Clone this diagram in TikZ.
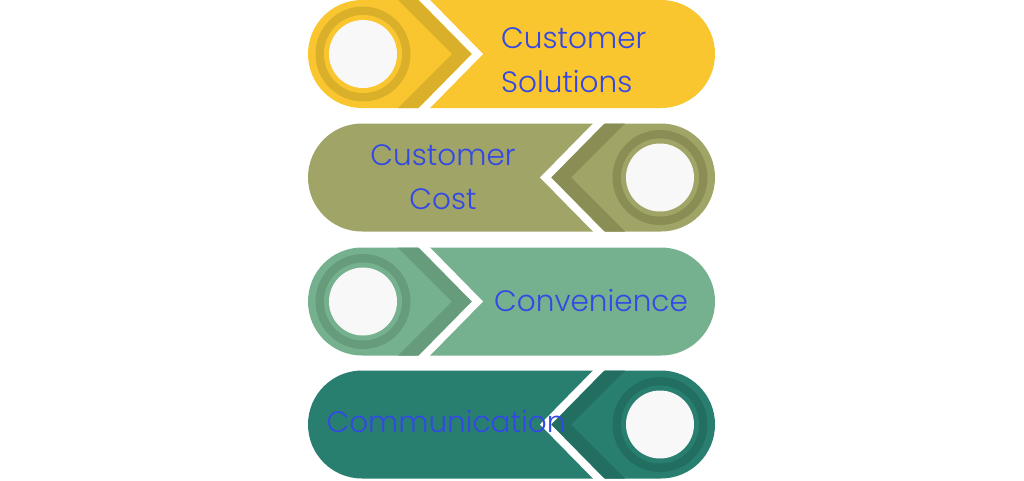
\documentclass[tikz,border=0pt]{standalone}
\usepackage{fontspec}
\IfFontExistsTF{Poppins Light}{\setmainfont{Poppins Light}}{\setmainfont{Poppins}}
\definecolor{yel}{HTML}{F9C62F}
\definecolor{yeldk}{HTML}{DAB02A}
\definecolor{oli}{HTML}{A0A567}
\definecolor{olidk}{HTML}{8A8E55}
\definecolor{grn}{HTML}{75B18F}
\definecolor{grndk}{HTML}{669B7B}
\definecolor{tea}{HTML}{287F70}
\definecolor{teadk}{HTML}{226E60}
\definecolor{ringwhite}{HTML}{F8F8F8}
\definecolor{txtblue}{HTML}{3348E4}
\newcommand\barLeft[3]{%
  \fill[#2, rounded corners=54pt] (308,#1-54) rectangle (715,#1+54);
  \fill[#3] (398,#1-54) -- (452,#1) -- (398,#1+54) -- (418,#1+54) -- (472,#1) -- (418,#1-54) -- cycle;
  \fill[white] (418,#1-55) -- (472,#1) -- (418,#1+55) -- (429,#1+55) -- (483,#1) -- (429,#1-55) -- cycle;
  \fill[#3] (363,#1) circle[radius=47.5];
  \fill[#2] (363,#1) circle[radius=39];
  \fill[ringwhite] (363,#1) circle[radius=34];
}
\newcommand\barRight[3]{%
  \fill[#2, rounded corners=54pt] (308,#1-54) rectangle (715,#1+54);
  \fill[#3] (625,#1-54) -- (571,#1) -- (625,#1+54) -- (605,#1+54) -- (551,#1) -- (605,#1-54) -- cycle;
  \fill[white] (605,#1-55) -- (551,#1) -- (605,#1+55) -- (594,#1+55) -- (540,#1) -- (594,#1-55) -- cycle;
  \fill[#3] (660,#1) circle[radius=47.5];
  \fill[#2] (660,#1) circle[radius=39];
  \fill[ringwhite] (660,#1) circle[radius=34];
}
\begin{document}
\begin{tikzpicture}[x=1pt,y=-1pt,
  lbl/.style={text=txtblue, inner sep=0pt, font=\fontsize{29.5}{44}\selectfont}]
\useasboundingbox (0,0) rectangle (1024,480);
\fill[white] (0,0) rectangle (1024,480);
\barLeft{54}{yel}{yeldk}
\barRight{177.5}{oli}{olidk}
\barLeft{301.5}{grn}{grndk}
\barRight{424.5}{tea}{teadk}
\node[lbl, anchor=west, align=left] (t1) at (501,60) {Customer\\Solutions};
\node[lbl, align=center] (t2) at (443,177.5) {Customer\\Cost};
\node[lbl] (t3) at (591,301) {Convenience};
\node[lbl] (t4) at (446,422) {Communication};
\end{tikzpicture}
\end{document}
